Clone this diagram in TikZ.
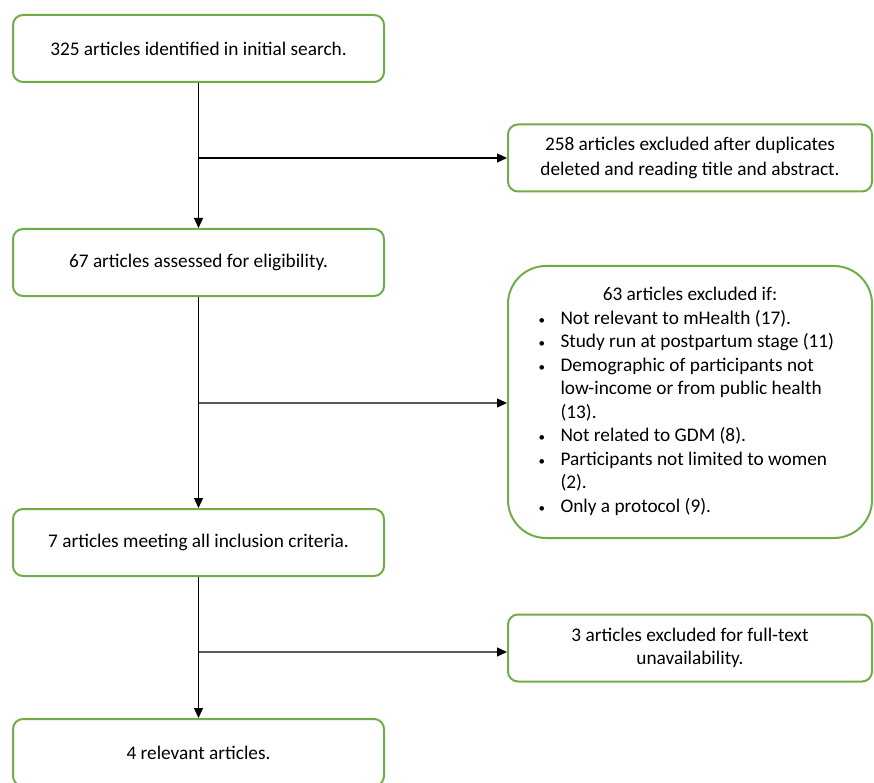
\documentclass[tikz,border=0pt]{standalone}
\usepackage{fontspec}
\setmainfont{Carlito}
\usepackage{array}
\usetikzlibrary{arrows.meta}
\definecolor{boxgreen}{RGB}{112,173,71}
\newcommand{\smbul}{\hspace*{1pt}{\fontsize{13}{13}\selectfont\textbullet}}
\begin{document}
\begin{tikzpicture}[x=1pt,y=1pt,
  box/.style={draw=boxgreen, line width=2pt, rounded corners=10pt, fill=white,
    minimum width=371pt, minimum height=67pt, align=center, inner sep=0pt,
    font=\fontsize{19.3}{23.5}\selectfont},
  rbox/.style={box, minimum width=364pt},
  flow/.style={line width=1.2pt, -{Triangle[length=10pt,width=9pt]}},
  flowg/.style={flow, draw=black!65, -{Triangle[length=10pt,width=9pt,black]}},
]
\useasboundingbox (0,0) rectangle (874,-783);
\node[box] (b1) at (198.5,-48.5) {325 articles identified in initial search.};
\node[box] (b3) at (198.5,-262.5) {67 articles assessed for eligibility.};
\node[box] (b5) at (198.5,-542.5) {7 articles meeting all inclusion criteria.};
\node[box] (b7) at (198.5,-752.5) {4 relevant articles.};
\node[rbox, font=\fontsize{19.3}{25}\selectfont] (b2) at (690,-158) {258 articles excluded after duplicates\\deleted and reading title and abstract.};
\node[rbox, rounded corners=38pt, minimum height=272pt] (b4) at (690,-402) {%
  \raisebox{-3pt}{\begin{tabular}{@{}>{\raggedright\arraybackslash}p{23pt}@{}>{\raggedright\arraybackslash}p{282pt}@{}}
  \multicolumn{2}{c}{63 articles excluded if:}\\
  \smbul & Not relevant to mHealth (17).\\
  \smbul & Study run at postpartum stage (11)\\
  \smbul & Demographic of participants not\newline low-income or from public health\newline (13).\\
  \smbul & Not related to GDM (8).\\
  \smbul & Participants not limited to women\newline (2).\\
  \smbul & Only a protocol (9).
  \end{tabular}}};
\node[rbox] (b6) at (690,-648) {3 articles excluded for full-text\\unavailability.};
\coordinate (j1) at (198.5,-158);
\coordinate (j2) at (198.5,-403);
\coordinate (j3) at (198.5,-652);
\draw[flow] (b1.south) -- (b3.north);
\draw[flow] (b3.south) -- (b5.north);
\draw[flow] (b5.south) -- (b7.north);
\draw[flow] (j1) -- (j1 -| b2.west);
\draw[flowg] (j2) -- (j2 -| b4.west);
\draw[flowg] (j3) -- (j3 -| b6.west);
\end{tikzpicture}
\end{document}
